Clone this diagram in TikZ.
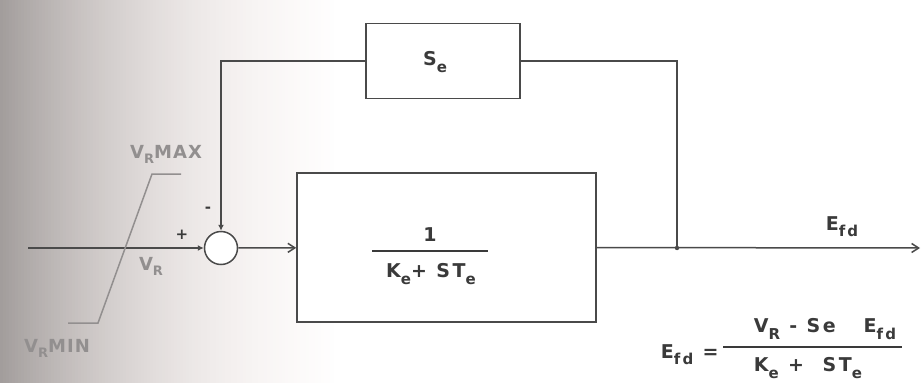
\documentclass[tikz,border=0pt]{standalone}
\usepackage{fontspec}
\setmainfont{DejaVu Sans}
\usetikzlibrary{arrows.meta}
\definecolor{ink}{HTML}{4A4A4A}
\definecolor{txt}{HTML}{3A3A3A}
\definecolor{faint}{HTML}{928F8F}
\definecolor{paper}{HTML}{F6EEEC}
\newcommand{\lo}[1]{\raisebox{-0.6ex}{\fontsize{15}{15}\selectfont #1}}
\newcommand{\los}[1]{\raisebox{-0.5ex}{\fontsize{13}{13}\selectfont #1}}
\begin{document}
\begin{tikzpicture}[x=1pt,y=-1pt,
  wire/.style={draw=ink,line width=1.5pt},
  arr/.style={wire,-{Straight Barb[length=7pt,width=9pt]}},
  farr/.style={wire,-{Latex[length=6pt,width=6pt]}},
  blk/.style={draw=ink,line width=1.5pt,fill=white,inner sep=0pt},
  lbl/.style={text=txt,font=\fontsize{19}{22}\selectfont\bfseries\addfontfeatures{LetterSpace=14}},
  slbl/.style={text=faint,font=\fontsize{18}{20}\selectfont\bfseries\addfontfeatures{LetterSpace=6}},
  sgn/.style={text=txt,font=\fontsize{15}{17}\selectfont\bfseries}]
\useasboundingbox (0,0) rectangle (921,383);
\foreach \i in {0,3,...,330} {
  \pgfmathsetmacro{\d}{34*(1-\i/333)^1.5}
  \pgfmathsetmacro{\q}{100*(1-\i/333)^0.6}
  \fill[black!\d!paper!\q!white] (\i,0) rectangle (\i+3.5,383);
}
% blocks
\node[blk,minimum width=154pt,minimum height=75pt] (se) at (443,61) {};
\node[lbl] (setxt) at (435,62) {S\lo{e}};
\node[blk,minimum width=299pt,minimum height=149pt] (main) at (446.5,247.5) {};
\node[lbl] (num) at (430,235) {1};
\node[lbl] (den) at (431,274) {K\lo{e}+ ST\lo{e}};
\draw[draw=txt,line width=1.5pt] (372,251) -- (488,251);
% summing junction
\node[draw=ink,line width=1.5pt,circle,minimum size=33pt,inner sep=0pt,fill=white] (sum) at (221,248) {};
\coordinate (in) at (28,248);
\coordinate (j) at (677,248);
\coordinate (out) at (920,248);
% connectors
\draw[farr] (in) -- (sum);
\draw[farr] (se.west) -| (sum.north);
\draw[arr] (sum) -- (main);
\draw[arr] (main.east) -- (out);
\draw[wire] (j) |- (se.east);
\fill[ink] (j) circle (2.2pt);
% limiter
\draw[draw=faint,line width=1.5pt] (68,323) -- (98,323) -- (152,174) -- (181,174);
\node[slbl] (vmax) at (166,154) {V\los{R}MAX};
\node[slbl] (vr) at (151,266) {V\los{R}};
\node[slbl] (vmin) at (57,348) {V\los{R}MIN};
\node[sgn] (plus) at (182,235) {+};
\node[sgn] (minus) at (208,210) {-};
% output label
\node[lbl] (efd) at (842,227) {E\lo{fd}};
% equation
\node[lbl,anchor=east] (eql) at (722,355) {E\lo{fd} =};
\node[lbl] (eqn) at (825,329) {V\lo{R} - Se\ \ \ E\lo{fd}};
\draw[draw=txt,line width=1.5pt] (723,347) -- (902,347);
\node[lbl] (eqd) at (808,368) {K\lo{e} + \ ST\lo{e}};
\end{tikzpicture}
\end{document}
